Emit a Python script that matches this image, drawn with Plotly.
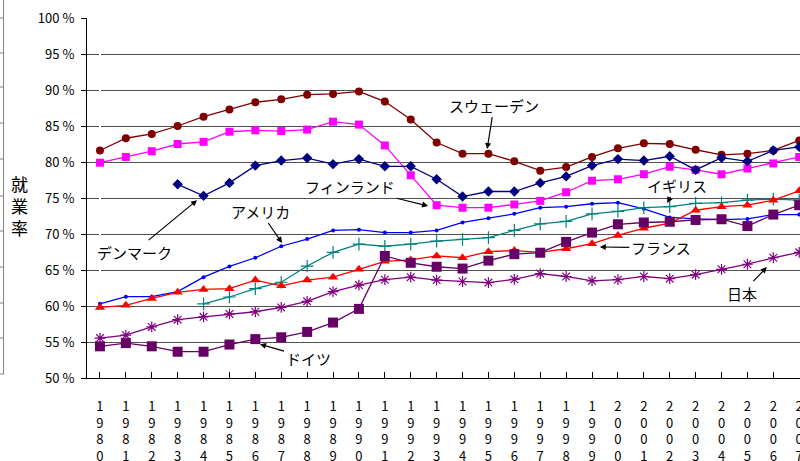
import plotly.graph_objects as go

# 就業率 1980-2007 (%)
years = [str(y) for y in range(1980, 2008)]
year_labels = ["<br>".join(y) for y in years]

sweden = [81.6, 83.3, 83.9, 85.0, 86.3, 87.3, 88.3, 88.7, 89.35, 89.45, 89.8, 88.4, 85.9, 82.7,
          81.15, 81.15, 80.1, 78.8, 79.3, 80.7, 81.9, 82.6, 82.5, 81.7, 81.0, 81.15, 81.6, 83.0]
finland = [79.9, 80.7, 81.5, 82.5, 82.8, 84.2, 84.4, 84.3, 84.5, 85.6, 85.2, 82.3, 78.15, 74.0,
           73.65, 73.65, 74.1, 74.6, 75.8, 77.4, 77.6, 78.3, 79.35, 78.9, 78.3, 79.1, 79.8, 80.7]
denmark = [None, None, None, 76.9, 75.3, 77.1, 79.5, 80.2, 80.55, 79.7, 80.4, 79.4, 79.4, 77.6,
           75.2, 75.9, 75.9, 77.1, 78.0, 79.5, 80.4, 80.2, 80.8, 78.9, 80.6, 80.1, 81.6, 82.1]
usa = [60.3, 61.3, 61.3, 62.0, 64.0, 65.5, 66.7, 68.3, 69.3, 70.5, 70.6, 70.2, 70.2, 70.5,
       71.6, 72.2, 72.8, 73.65, 73.8, 74.2, 74.35, 73.5, 72.3, 72.1, 72.0, 72.1, 72.7, 72.7]
uk = [None, None, None, None, 60.3, 61.25, 62.4, 63.3, 65.55, 67.45, 68.6, 68.3, 68.6, 69.0,
      69.25, 69.5, 70.5, 71.4, 71.75, 72.8, 73.15, 73.65, 73.8, 74.25, 74.35, 74.7, 74.85, 74.7]
france = [59.8, 60.1, 61.05, 61.9, 62.3, 62.4, 63.6, 62.8, 63.6, 64.0, 65.1, 66.2, 66.4, 66.95,
          66.7, 67.55, 67.7, 67.45, 67.95, 68.65, 69.8, 70.8, 71.5, 73.3, 73.8, 74.0, 74.7, 76.0]
germany = [54.4, 54.85, 54.4, 53.65, 53.65, 54.65, 55.4, 55.65, 56.4, 57.7, 59.6, 66.95, 66.0, 65.45,
           65.2, 66.3, 67.2, 67.4, 68.9, 70.2, 71.35, 71.6, 71.7, 71.95, 72.05, 71.1, 72.7, 74.0]
japan = [55.55, 55.95, 57.1, 58.1, 58.5, 58.9, 59.2, 59.8, 60.65, 62.0, 62.9, 63.65, 64.0, 63.6,
         63.4, 63.25, 63.7, 64.5, 64.1, 63.5, 63.65, 64.1, 63.8, 64.35, 65.1, 65.8, 66.7, 67.45]

y_ticks = list(range(50, 101, 5))
y_labels = [f"{v} %" for v in y_ticks]

FONT = "Noto Sans CJK JP"
xs = list(range(len(years)))

series = [
    ("スウェーデン", sweden, "#800000", dict(symbol="circle", size=8)),
    ("フィンランド", finland, "#FF00FF", dict(symbol="square", size=8)),
    ("デンマーク", denmark, "#000080", dict(symbol="diamond", size=8)),
    ("アメリカ", usa, "#0000FF", dict(symbol="circle", size=4)),
    ("イギリス", uk, "#008080", dict(symbol="cross-thin-open", size=9,
                                       line=dict(color="#008080", width=1.2))),
    ("フランス", france, "#FF0000", dict(symbol="triangle-up", size=9)),
    ("ドイツ", germany, "#660066", dict(symbol="square", size=10)),
    ("日本", japan, "#800080", dict(symbol="asterisk-open", size=9,
                                   line=dict(color="#800080", width=1.2))),
]

fig = go.Figure()
for name, vals, color, marker in series:
    fig.add_trace(go.Scatter(
        x=xs, y=vals, name=name, mode="lines+markers",
        line=dict(color=color, width=1.3),
        marker=dict(color=color, **marker),
        connectgaps=False, cliponaxis=False,
    ))

# labels with arrows: (text, head x index, head value, ax, ay)
labels = [
    ("スウェーデン", 14.95, 81.8, 7, -44),
    ("フィンランド", 12.67, 73.9, -78, -19),
    ("イギリス", 21.9, 74.3, 10, -18),
    ("アメリカ", 7.03, 68.75, -22, -32),
    ("デンマーク", 3.75, 74.7, -63, 52),
    ("ドイツ", 6.18, 54.7, 48, 14),
    ("フランス", 19.3, 68.2, 61, 1),
    ("日本", 25.75, 65.4, -25, 26),
]
for text, x, y, ax, ay in labels:
    fig.add_annotation(
        x=x, y=y, text=text, ax=ax, ay=ay, showarrow=True,
        arrowhead=2, arrowsize=1, arrowwidth=1.2, arrowcolor="black",
        font=dict(family=FONT, size=15, color="black"),
    )

# y title
fig.add_annotation(
    xref="paper", yref="paper", x=-0.094, y=0.48, xanchor="center", yanchor="middle",
    text="就<br>業<br>率", showarrow=False, font=dict(family=FONT, size=17, color="black"),
)

# remains of the neighbouring frame at the left edge
shapes = [dict(type="line", xref="paper", yref="paper", x0=-0.117, x1=-0.117,
               y0=1.06, y1=0.011, line=dict(color="#808080", width=1))]
for py in [18, 53, 87, 123, 159, 196, 231, 267, 303, 338, 374]:
    yy = (378 - py) / 360
    shapes.append(dict(type="line", xref="paper", yref="paper", x0=-0.125, x1=-0.117,
                       y0=yy, y1=yy, line=dict(color="#808080", width=1)))

fig.update_layout(
    width=800, height=461,
    margin=dict(l=87, r=0, t=18, b=83, autoexpand=False),
    plot_bgcolor="white", paper_bgcolor="white",
    showlegend=False,
    font=dict(family=FONT, size=13, color="black"),
    shapes=shapes,
    xaxis=dict(
        range=[-0.5, 27.03], tickmode="array", tickvals=xs, ticktext=year_labels,
        showgrid=False, showline=True, linecolor="black", linewidth=1,
        ticks="inside", ticklen=6, tickcolor="black", tickson="boundaries",
        tickfont=dict(size=13), tickangle=0, automargin=False,
        ticklabelstandoff=16, ticklabeloverflow="allow",
    ),
    yaxis=dict(
        range=[50, 100], tickmode="array", tickvals=y_ticks, ticktext=y_labels,
        showgrid=True, gridcolor="#505050", gridwidth=1,
        showline=True, linecolor="black", linewidth=1,
        ticks="outside", ticklen=5, tickcolor="black",
        tickfont=dict(size=13), zeroline=False, automargin=False,
        ticklabelstandoff=4,
    ),
)

# the page's default body margin would shift the figure by 8px
fig.write_html("out.html", config={"displayModeBar": False},
               post_script="document.body.style.margin='0';")
